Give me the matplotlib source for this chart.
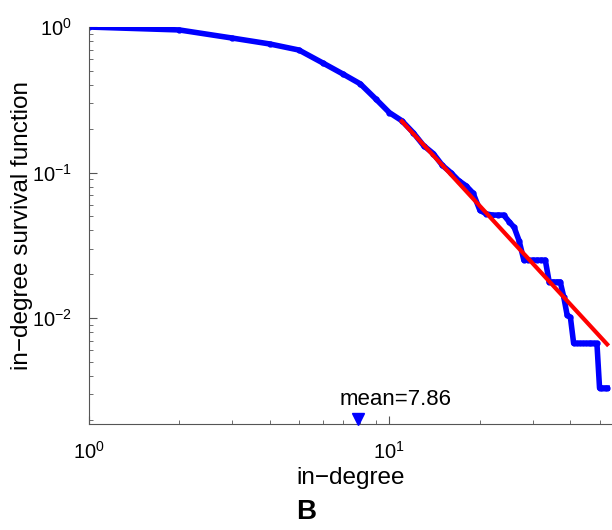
import numpy as np
import matplotlib.pyplot as plt
from matplotlib.ticker import LogLocator, NullFormatter

plt.rcParams['font.family'] = ['Liberation Sans', 'DejaVu Sans']
plt.rcParams['mathtext.fontset'] = 'custom'
plt.rcParams['mathtext.rm'] = 'Liberation Sans'
plt.rcParams['mathtext.it'] = 'Liberation Sans:italic'
plt.rcParams['mathtext.bf'] = 'Liberation Sans:bold'

# in-degree survival function
deg = list(range(1, 54))
surv = [1.0, 0.955, 0.84, 0.765, 0.695, 0.567, 0.476, 0.407, 0.321, 0.258,
        0.227, 0.188, 0.153, 0.135, 0.112, 0.100, 0.088, 0.081, 0.072, 0.055,
        0.052, 0.051, 0.051, 0.051, 0.046, 0.042, 0.034, 0.025, 0.025, 0.025,
        0.025, 0.025, 0.025, 0.0177, 0.0177, 0.0177, 0.0177, 0.014, 0.0105, 0.0101,
        0.0067, 0.0067, 0.0067, 0.0067, 0.0067, 0.0067, 0.0067, 0.0067, 0.0067, 0.0033,
        0.0033, 0.0033, 0.0033]

# power-law fit (tail)
fit_x = [11, 53]
fit_y = [0.225, 0.0066]

mean_deg = 7.86

fig = plt.figure(figsize=(6.12, 5.30), dpi=100)
ax = fig.add_axes([0.145, 0.2, 0.855, 0.749])

ax.plot(deg, surv, '-', color='#0000ff', lw=4.0, marker='.', ms=7, zorder=2)
ax.plot(fit_x, fit_y, '-', color='#ff0000', lw=3.0, zorder=3)
ax.plot([mean_deg], [0.00203], 'v', color='#0000ff', ms=8, clip_on=False, zorder=4)
ax.annotate('mean=%.2f' % mean_deg, xy=(mean_deg, 0.00203), xytext=(27, 14),
            textcoords='offset points', ha='center', va='center', fontsize=16)

ax.set_xscale('log')
ax.set_yscale('log')
ax.set_xlim(1, 55)
ax.set_ylim(0.00187, 1.0)

for s in ['top', 'right']:
    ax.spines[s].set_visible(False)
for s in ['left', 'bottom']:
    ax.spines[s].set_color('#555555')

ax.xaxis.set_major_locator(LogLocator(base=10, numticks=10))
ax.xaxis.set_minor_locator(LogLocator(base=10, subs=np.arange(2, 10), numticks=10))
ax.xaxis.set_minor_formatter(NullFormatter())
ax.yaxis.set_minor_formatter(NullFormatter())
ax.tick_params(which='both', direction='in', colors='#555555', labelcolor='black',
               labelsize=14.5)
ax.tick_params(which='major', length=6, pad=12)
ax.tick_params(which='minor', length=3)

ax.set_xlabel('in\u2212degree', fontsize=17.5, labelpad=3)
ax.set_ylabel('in\u2212degree survival function', fontsize=17.5, labelpad=-1)
fig.text(0.5, 0.034, 'B', fontsize=20, fontweight='bold', ha='center', va='center')

fig.savefig('out.png', dpi=100)
